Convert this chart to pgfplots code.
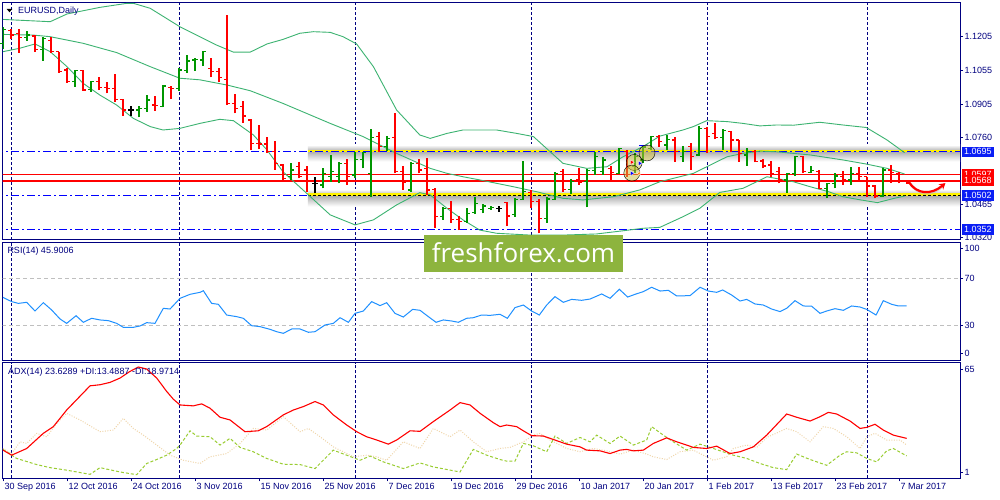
\documentclass[border=0pt]{standalone}
\usepackage{fontspec}
\setmainfont{Liberation Sans}
\newfontfamily\logofont{Open Sans}
\usepackage{pgfplots}
\pgfplotsset{compat=1.18}
\usepackage{pgfplotstable}
\usetikzlibrary{arrows.meta}
\definecolor{navy}{RGB}{0,0,128}
\definecolor{barG}{RGB}{0,150,0}
\definecolor{barR}{RGB}{255,0,0}
\definecolor{band}{RGB}{60,179,113}
\definecolor{hblue}{RGB}{0,0,255}
\definecolor{rsiC}{RGB}{30,144,255}
\definecolor{wheatC}{RGB}{240,214,170}
\definecolor{ygC}{RGB}{154,205,50}
\definecolor{logoC}{RGB}{141,180,62}
\definecolor{boxB}{RGB}{10,30,245}
\definecolor{boxR}{RGB}{255,0,0}
\definecolor{blobC}{RGB}{205,190,60}
\newcommand\lab{\fontsize{9}{10}\selectfont}

\pgfdeclareplotmark{lt}{\pgfpathmoveto{\pgfqpoint{-\pgfplotmarksize}{0pt}}\pgfpathlineto{\pgfqpoint{0pt}{0pt}}\pgfusepathqstroke}
\pgfdeclareplotmark{rt}{\pgfpathmoveto{\pgfqpoint{0pt}{0pt}}\pgfpathlineto{\pgfqpoint{\pgfplotmarksize}{0pt}}\pgfusepathqstroke}

% open / close of each daily bar
\pgfplotstableread{
i O C
0 1.1173 1.1234
3 1.1199 1.1209
5 1.1146 1.1195
9 1.1004 1.1052
11 1.0970 1.1004
17 1.0879 1.0886
18 1.0886 1.0923
20 1.0894 1.0985
22 1.0975 1.1055
23 1.1052 1.1095
24 1.1099 1.1102
25 1.1099 1.1136
36 1.0585 1.0615
40 1.0549 1.0600
41 1.0585 1.0607
42 1.0585 1.0644
44 1.0593 1.0662
45 1.0662 1.0691
46 1.0600 1.0759
48 1.0718 1.0754
51 1.0527 1.0644
55 1.0409 1.0446
58 1.0387 1.0424
59 1.0427 1.0468
60 1.0439 1.0456
61 1.0446 1.0450
64 1.0417 1.0485
65 1.0485 1.0519
68 1.0402 1.0487
69 1.0485 1.0600
71 1.0530 1.0563
73 1.0563 1.0612
74 1.0612 1.0673
75 1.0607 1.0659
77 1.0600 1.0710
79 1.0629 1.0673
80 1.0659 1.0716
81 1.0710 1.0762
83 1.0725 1.0750
85 1.0673 1.0695
87 1.0681 1.0798
90 1.0759 1.0788
93 1.0681 1.0695
98 1.0571 1.0600
99 1.0600 1.0673
101 1.0603 1.0612
103 1.0534 1.0556
104 1.0556 1.0588
106 1.0571 1.0600
110 1.0500 1.0615
}\tbG

\pgfplotstableread{
i O C
1 1.1229 1.1209
2 1.1217 1.1199
4 1.1205 1.1146
6 1.1185 1.1136
7 1.1135 1.1048
8 1.1055 1.1004
10 1.1052 1.0967
12 1.1004 1.0979
13 1.0979 1.0975
14 1.0975 1.0927
15 1.0926 1.0879
19 1.0901 1.0898
21 1.0979 1.0975
26 1.1063 1.1048
27 1.1048 1.1023
28 1.1014 1.0906
29 1.0908 1.0886
30 1.0894 1.0853
31 1.0835 1.0732
32 1.0732 1.0729
33 1.0729 1.0695
34 1.0695 1.0644
35 1.0637 1.0578
37 1.0629 1.0585
38 1.0615 1.0563
43 1.0644 1.0585
47 1.0762 1.0718
49 1.0759 1.0607
50 1.0607 1.0559
52 1.0644 1.0615
53 1.0622 1.0527
54 1.0530 1.0409
56 1.0446 1.0395
57 1.0395 1.0387
63 1.0471 1.0412
66 1.0515 1.0475
67 1.0475 1.0402
70 1.0607 1.0530
72 1.0574 1.0559
76 1.0622 1.0603
78 1.0695 1.0629
82 1.0762 1.0740
84 1.0747 1.0695
86 1.0718 1.0673
88 1.0798 1.0764
89 1.0776 1.0759
91 1.0784 1.0747
92 1.0747 1.0688
94 1.0695 1.0651
95 1.0654 1.0632
96 1.0637 1.0600
97 1.0607 1.0574
100 1.0673 1.0607
102 1.0607 1.0534
105 1.0585 1.0571
107 1.0600 1.0585
108 1.0585 1.0544
109 1.0544 1.0500
111 1.0615 1.0603
112 1.0600 1.0563
113 1.0563 1.0556
}\tbR

\pgfplotstableread{
i O C
16 1.0879 1.0879
39 1.0556 1.0556
62 1.0446 1.0446
}\tbK

\pgfplotsset{
  mt/.style={
    scale only axis, width=957.5pt,
    xmin=-0.0625, xmax=119.625,
    axis line style={draw=navy, line width=1pt},
    tick align=outside, major tick length=3pt,
    xtick pos=left, ytick pos=right, yticklabel pos=right,
    ytick style={draw=navy, line width=0.8pt},
    ticklabel style={font=\lab, text=navy},
    yticklabel style={anchor=west, inner sep=0pt, xshift=1.5pt},
    major x grid style={draw=navy, line width=0.8pt, dash pattern=on 3pt off 2pt},
  },
  monthgrid/.style={xtick={1,22,44,66,88,108}, xticklabels={}, xtick style={draw=none}, xmajorgrids},
  otick/.style={only marks, mark=lt, mark size=3pt, mark options={line width=1.2pt, draw=#1}, forget plot},
  ctick/.style={only marks, mark=rt, mark size=3pt, mark options={line width=1.2pt, draw=#1}, forget plot},
}

\begin{document}
\begin{tikzpicture}[x=1pt,y=1pt]
\useasboundingbox (0,0) rectangle (1000,500);
\fill[white] (0,0) rectangle (1000,500);

% ---------------- price panel ----------------
\begin{axis}[mt, monthgrid, at={(2.5pt,260pt)}, anchor=south west, height=237.5pt,
  ymin=1.03064, ymax=1.13526,
  ytick={1.1205,1.1055,1.0905,1.0760,1.0465,1.0320},
  yticklabels={1.1205,1.1055,1.0905,1.0760,1.0465,1.0320}]
% shadows of the yellow bands
\addplot[draw=none, top color=white, bottom color=black!24] coordinates {(38.1,1.0725)(121,1.0725)(121,1.0705)(38.1,1.0705)} -- cycle;
\addplot[draw=none, top color=black!30, bottom color=white] coordinates {(38.1,1.0694)(121,1.0694)(121,1.0652)(38.1,1.0652)} -- cycle;
\addplot[draw=none, top color=white, bottom color=black!24] coordinates {(38.1,1.0529)(121,1.0529)(121,1.0510)(38.1,1.0510)} -- cycle;
\addplot[draw=none, top color=black!30, bottom color=white] coordinates {(38.1,1.0498)(121,1.0498)(121,1.0454)(38.1,1.0454)} -- cycle;
% yellow lines
\addplot[yellow, line width=2.6pt] coordinates {(38.1,1.0699)(121,1.0699)};
\addplot[yellow, line width=2.6pt] coordinates {(38.1,1.0506)(121,1.0506)};
% levels
\addplot[hblue, line width=1pt, dash pattern=on 8pt off 3pt on 2pt off 3pt] coordinates {(-1,1.0695)(121,1.0695)};
\addplot[hblue, line width=1pt, dash pattern=on 8pt off 3pt on 2pt off 3pt] coordinates {(-1,1.0502)(38.1,1.0502)};
\addplot[black, line width=1pt, dash pattern=on 3pt off 2pt] coordinates {(38.1,1.0502)(121,1.0502)};
\addplot[hblue, line width=1pt, dash pattern=on 8pt off 3pt on 2pt off 3pt] coordinates {(-1,1.0352)(121,1.0352)};
\addplot[red, line width=1pt] coordinates {(-1,1.0597)(121,1.0597)};
\addplot[red, line width=2.2pt] coordinates {(-1,1.0568)(121,1.0568)};
% Bollinger bands
\addplot[band, line width=0.9pt] coordinates {(0,1.1278)(5.9,1.1268)(8.0,1.1302)(12.1,1.1331)(15.5,1.1349)(16.3,1.1349)(18.4,1.1327)(22.1,1.1246)(24.6,1.1202)(26.7,1.1165)(28.8,1.1134)(30.9,1.1134)(33.0,1.1170)(35.0,1.1190)(37.1,1.1217)(38.8,1.1224)(40.9,1.1221)(42.5,1.1202)(44.2,1.1170)(46.3,1.1070)(49.2,1.0879)(52.1,1.0769)(53.4,1.0754)(55.5,1.0776)(57.5,1.0791)(61.7,1.0791)(64.2,1.0776)(66.3,1.0762)(68.4,1.0695)(70.0,1.0644)(72.96,1.0622)(75.5,1.0629)(77.5,1.0673)(80.0,1.0718)(82.1,1.0764)(85.0,1.0791)(86.3,1.0806)(87.96,1.0832)(90.5,1.0828)(92.5,1.0820)(94.6,1.0809)(96.7,1.0813)(98.8,1.0812)(102.1,1.0825)(105.0,1.0813)(107.9,1.0802)(110.5,1.0747)(112.7,1.0691)};
\addplot[band, line width=0.9pt] coordinates {(0,1.1212)(3.8,1.1209)(5.9,1.1202)(10.0,1.1173)(14.2,1.1132)(18.4,1.1070)(22.1,1.1019)(24.6,1.1012)(28.0,1.0989)(30.9,1.0964)(35.0,1.0908)(40.9,1.0820)(45.0,1.0762)(49.2,1.0688)(53.4,1.0622)(55.5,1.0600)(57.5,1.0585)(59.6,1.0571)(63.8,1.0541)(66.7,1.0519)(70.0,1.0490)(72.5,1.0483)(76.3,1.0497)(79.6,1.0527)(82.1,1.0563)(86.3,1.0600)(90.5,1.0673)(92.5,1.0688)(94.6,1.0698)(96.7,1.0695)(100.9,1.0681)(105.0,1.0659)(107.9,1.0641)(110.5,1.0622)(112.7,1.0597)};
\addplot[band, line width=0.9pt] coordinates {(0,1.1136)(2.1,1.1151)(4.0,1.1170)(5.9,1.1136)(8.0,1.1070)(10.0,1.0997)(12.1,1.0945)(14.2,1.0901)(16.3,1.0842)(18.4,1.0806)(20.0,1.0791)(22.1,1.0798)(24.6,1.0820)(27.1,1.0838)(28.8,1.0832)(31.3,1.0769)(33.0,1.0703)(35.0,1.0607)(37.96,1.0512)(40.9,1.0417)(44.0,1.0373)(46.3,1.0395)(49.2,1.0461)(52.1,1.0515)(53.4,1.0505)(55.5,1.0446)(57.5,1.0395)(59.6,1.0350)(61.7,1.0336)(65.9,1.0328)(70.0,1.0328)(74.2,1.0333)(77.5,1.0347)(80.0,1.0358)(82.1,1.0362)(85.0,1.0409)(87.1,1.0446)(89.6,1.0516)(92.5,1.0534)(95.5,1.0585)(98.8,1.0563)(100.9,1.0541)(103.2,1.0519)(105.0,1.0497)(107.2,1.0483)(109.3,1.0471)(111.4,1.0490)(112.7,1.0500)};
% high-low of each bar (low, high, break)
\addplot[color=barG, draw=barG, line width=1.3pt, mark=none, unbounded coords=jump] coordinates {(0,1.1146)(0,1.1246)(0,nan)(3,1.1185)(3,1.1229)(3,nan)(5,1.1096)(5,1.1199)(5,nan)(9,1.0982)(9,1.1055)(9,nan)(11,1.0960)(11,1.1007)(11,nan)(17,1.0847)(17,1.0897)(17,nan)(18,1.0872)(18,1.0945)(18,nan)(20,1.0891)(20,1.0989)(20,nan)(22,1.0964)(22,1.1063)(22,nan)(23,1.1044)(23,1.1121)(23,nan)(24,1.1052)(24,1.1107)(24,nan)(25,1.1074)(25,1.1139)(25,nan)(36,1.0571)(36,1.0644)(36,nan)(40,1.0534)(40,1.0622)(40,nan)(41,1.0563)(41,1.0681)(41,nan)(42,1.0556)(42,1.0651)(42,nan)(44,1.0578)(44,1.0695)(44,nan)(45,1.0622)(45,1.0695)(45,nan)(46,1.0497)(46,1.0794)(46,nan)(48,1.0700)(48,1.0764)(48,nan)(51,1.0519)(51,1.0651)(51,nan)(55,1.0395)(55,1.0453)(55,nan)(58,1.0383)(58,1.0446)(58,nan)(59,1.0420)(59,1.0494)(59,nan)(60,1.0424)(60,1.0465)(60,nan)(61,1.0439)(61,1.0458)(61,nan)(64,1.0409)(64,1.0490)(64,nan)(65,1.0483)(65,1.0654)(65,nan)(68,1.0383)(68,1.0494)(68,nan)(69,1.0483)(69,1.0607)(69,nan)(71,1.0509)(71,1.0574)(71,nan)(73,1.0450)(73,1.0618)(73,nan)(74,1.0593)(74,1.0695)(74,nan)(75,1.0593)(75,1.0673)(75,nan)(77,1.0597)(77,1.0713)(77,nan)(79,1.0600)(79,1.0688)(79,nan)(80,1.0644)(80,1.0718)(80,nan)(81,1.0703)(81,1.0764)(81,nan)(83,1.0703)(83,1.0769)(83,nan)(85,1.0651)(85,1.0720)(85,nan)(87,1.0677)(87,1.0809)(87,nan)(90,1.0703)(90,1.0794)(90,nan)(93,1.0634)(93,1.0710)(93,nan)(98,1.0515)(98,1.0603)(98,nan)(99,1.0588)(99,1.0677)(99,nan)(101,1.0600)(101,1.0632)(101,nan)(103,1.0490)(103,1.0559)(103,nan)(104,1.0534)(104,1.0600)(104,nan)(106,1.0549)(106,1.0627)(106,nan)(110,1.0497)(110,1.0622)};
\addplot[color=barR, draw=barR, line width=1.3pt, mark=none, unbounded coords=jump] coordinates {(1,1.1190)(1,1.1234)(1,nan)(2,1.1132)(2,1.1234)(2,nan)(4,1.1136)(4,1.1209)(4,nan)(6,1.1129)(6,1.1202)(6,nan)(7,1.1044)(7,1.1136)(7,nan)(8,1.0999)(8,1.1063)(8,nan)(10,1.0964)(10,1.1055)(10,nan)(12,1.0967)(12,1.1023)(12,nan)(13,1.0952)(13,1.1004)(13,nan)(14,1.0916)(14,1.1038)(14,nan)(15,1.0853)(15,1.0927)(15,nan)(19,1.0876)(19,1.0941)(19,nan)(21,1.0927)(21,1.0985)(21,nan)(26,1.1023)(26,1.1107)(26,nan)(27,1.1004)(27,1.1063)(27,nan)(28,1.0900)(28,1.1298)(28,nan)(29,1.0864)(29,1.0948)(29,nan)(30,1.0823)(30,1.0919)(30,nan)(31,1.0703)(31,1.0838)(31,nan)(32,1.0706)(32,1.0813)(32,nan)(33,1.0691)(33,1.0762)(33,nan)(34,1.0615)(34,1.0742)(34,nan)(35,1.0571)(35,1.0641)(35,nan)(37,1.0578)(37,1.0651)(37,nan)(38,1.0519)(38,1.0632)(38,nan)(43,1.0549)(43,1.0662)(43,nan)(47,1.0695)(47,1.0781)(47,nan)(49,1.0600)(49,1.0867)(49,nan)(50,1.0527)(50,1.0632)(50,nan)(52,1.0600)(52,1.0662)(52,nan)(53,1.0505)(53,1.0666)(53,nan)(54,1.0361)(54,1.0534)(54,nan)(56,1.0383)(56,1.0478)(56,nan)(57,1.0350)(57,1.0412)(57,nan)(63,1.0368)(63,1.0475)(63,nan)(66,1.0446)(66,1.0527)(66,nan)(67,1.0336)(67,1.0485)(67,nan)(70,1.0519)(70,1.0618)(70,nan)(72,1.0549)(72,1.0622)(72,nan)(76,1.0571)(76,1.0632)(76,nan)(78,1.0585)(78,1.0703)(78,nan)(82,1.0718)(82,1.0769)(82,nan)(84,1.0651)(84,1.0762)(84,nan)(86,1.0615)(86,1.0735)(86,nan)(88,1.0691)(88,1.0806)(88,nan)(89,1.0750)(89,1.0823)(89,nan)(91,1.0695)(91,1.0787)(91,nan)(92,1.0651)(92,1.0747)(92,nan)(94,1.0648)(94,1.0703)(94,nan)(95,1.0622)(95,1.0662)(95,nan)(96,1.0585)(96,1.0654)(96,nan)(97,1.0556)(97,1.0629)(97,nan)(100,1.0600)(100,1.0677)(100,nan)(102,1.0530)(102,1.0615)(102,nan)(105,1.0549)(105,1.0612)(105,nan)(107,1.0571)(107,1.0629)(107,nan)(108,1.0497)(108,1.0585)(108,nan)(109,1.0490)(109,1.0549)(109,nan)(111,1.0559)(111,1.0637)(111,nan)(112,1.0556)(112,1.0607)(112,nan)(113,1.0554)(113,1.0571)};
\addplot[color=black, line width=1.3pt, mark=none, unbounded coords=jump] coordinates {(16,1.0853)(16,1.0897)(16,nan)(39,1.0512)(39,1.0582)(39,nan)(62,1.0431)(62,1.0456)};
% open and close ticks
\addplot[otick=barG] table[x=i, y=O] {\tbG};
\addplot[ctick=barG] table[x=i, y=C] {\tbG};
\addplot[otick=barR] table[x=i, y=O] {\tbR};
\addplot[ctick=barR] table[x=i, y=C] {\tbR};
\addplot[otick=black] table[x=i, y=O] {\tbK};
\addplot[ctick=black] table[x=i, y=C] {\tbK};
% trade markers
\addplot[only marks, mark=*, mark size=8pt, mark options={fill=blobC, draw=none, fill opacity=0.5}] coordinates {(78.9,1.0648)(80.5,1.0690)(78.6,1.0601)};
\addplot[only marks, mark=triangle*, mark size=2.6pt, mark options={rotate=-90, fill=red, draw=white, line width=0.3pt}] coordinates {(78.6,1.0649)};
\addplot[only marks, mark=triangle*, mark size=2.6pt, mark options={rotate=-90, fill=hblue, draw=white, line width=0.3pt}] coordinates {(79.6,1.0644)(78.6,1.0600)};
\addplot[only marks, mark=triangle*, mark size=2.2pt, mark options={rotate=90, fill=orange, draw=white, line width=0.3pt}] coordinates {(79.5,1.0600)};
\addplot[hblue, line width=1pt] coordinates {(79.5,1.0721)(80.6,1.0721)};
% forecast arrow
\draw[black!25, line width=2.4pt, opacity=0.6] (axis cs:113.4,1.0555) .. controls (axis cs:114.4,1.0500) and (axis cs:116.2,1.0497) .. (axis cs:117.6,1.0548);
\draw[red, line width=2.2pt, -{Stealth[length=6pt,width=7pt]}] (axis cs:113.2,1.0563) .. controls (axis cs:114.2,1.0507) and (axis cs:116,1.0503) .. (axis cs:117.8,1.0557);
\coordinate (bA) at (axis cs:119.625,1.0695);
\coordinate (bB) at (axis cs:119.625,1.0597);
\coordinate (bC) at (axis cs:119.625,1.0568);
\coordinate (bD) at (axis cs:119.625,1.0502);
\coordinate (bE) at (axis cs:119.625,1.0352);
\end{axis}

% ---------------- RSI panel ----------------
\begin{axis}[mt, monthgrid, at={(2.5pt,139.3pt)}, anchor=south west, height=118.4pt,
  ymin=-0.38, ymax=100.38, ytick={6,30,70,95.5}, yticklabels={0,30,70,100}]
\addplot[black!25, line width=0.9pt, dash pattern=on 4pt off 3pt] coordinates {(-1,30)(121,30)};
\addplot[black!25, line width=0.9pt, dash pattern=on 4pt off 3pt] coordinates {(-1,70)(121,70)};
\addplot[rsiC, line width=1pt] coordinates {(0,53.5)(1.08,49.9)(1.92,48.4)(2.96,49.3)(4.0,41.9)(5.04,49.0)(6.08,42.8)(7.13,35.1)(7.96,31.4)(9.13,37.9)(10.04,32.3)(11.08,35.7)(12.13,34.3)(13.17,33.7)(14.21,31.4)(15.04,28.0)(16.29,28.0)(17.13,29.2)(17.96,32.0)(19.0,31.4)(20.04,44.2)(20.88,43.6)(22.13,52.7)(23.38,56.1)(24.63,57.8)(25.04,59.2)(26.08,48.4)(26.92,47.6)(27.96,38.5)(29.21,37.1)(30.04,35.7)(31.08,29.4)(32.13,28.6)(33.38,26.3)(34.21,24.3)(35.04,22.9)(36.08,26.6)(37.13,26.6)(38.17,23.8)(39.0,24.3)(40.25,30.0)(41.29,31.4)(42.13,36.2)(43.17,32.3)(44.0,39.9)(45.04,41.9)(46.08,49.9)(47.13,46.5)(47.96,49.0)(49.0,39.9)(50.04,36.8)(51.21,43.3)(52.13,42.5)(53.17,37.1)(54.13,32.3)(55.04,34.3)(56.08,33.4)(56.92,32.3)(57.96,35.7)(58.79,36.2)(59.83,38.5)(60.88,38.2)(62.13,39.1)(63.04,35.7)(64.0,44.8)(65.04,47.0)(66.08,41.9)(67.04,38.5)(67.96,47.0)(69.0,54.1)(70.04,49.3)(71.08,51.8)(72.33,51.0)(73.38,52.1)(74.83,56.4)(75.88,52.7)(77.04,60.4)(78.08,53.8)(79.0,56.1)(80.04,58.4)(81.08,62.1)(82.13,58.9)(83.17,59.5)(84.21,54.7)(85.88,55.0)(87.13,62.1)(88.17,58.9)(89.21,57.8)(89.96,59.8)(91.08,55.5)(92.13,50.4)(92.96,51.8)(94.0,47.9)(95.04,47.0)(96.08,43.6)(97.13,41.4)(97.96,44.2)(99.0,50.7)(100.04,46.2)(101.08,46.0)(102.13,39.9)(102.96,41.9)(104.0,43.9)(105.04,42.5)(106.08,46.2)(107.13,45.3)(107.96,43.3)(109.13,38.5)(110.04,50.7)(111.08,47.6)(111.92,46.2)(112.96,46.2)};
\end{axis}

% ---------------- ADX panel ----------------
\begin{axis}[mt, at={(2.5pt,21.7pt)}, anchor=south west, height=115.6pt,
  ymin=1, ymax=65, ytick={4.1,61.5}, yticklabels={1,65},
  xtick={0,8,...,112},
  xticklabels={30 Sep 2016,12 Oct 2016,24 Oct 2016,3 Nov 2016,15 Nov 2016,25 Nov 2016,7 Dec 2016,19 Dec 2016,29 Dec 2016,10 Jan 2017,20 Jan 2017,1 Feb 2017,13 Feb 2017,23 Feb 2017,7 Mar 2017},
  xtick style={draw=navy, line width=0.8pt},
  xticklabel style={anchor=north west, inner sep=0pt, xshift=1.5pt, yshift=-1.5pt},
  extra x ticks={1,22,44,66,88,108}, extra x tick labels={},
  extra x tick style={grid=major, major tick length=0pt}]
\addplot[wheatC, line width=1pt, dash pattern=on 1pt off 1.5pt] coordinates {(0,17.5)(1.08,14.7)(2.13,21.2)(2.96,20.3)(4.21,25.9)(5.46,24.0)(6.71,31.4)(7.96,37.0)(9.63,33.3)(12.13,26.8)(13.79,27.7)(15.04,34.2)(16.29,28.6)(17.54,24.9)(19.21,19.4)(20.88,13.8)(22.54,11.0)(24.63,9.2)(25.88,12.9)(27.96,14.7)(29.63,20.3)(31.29,28.6)(32.96,27.7)(35.04,35.1)(37.13,26.8)(38.17,28.6)(39.63,24.0)(41.29,18.4)(43.79,12.9)(45.46,13.8)(46.71,12.9)(47.96,11.0)(50.04,21.2)(52.13,17.5)(53.79,28.6)(55.88,24.0)(57.13,27.7)(58.79,21.2)(60.46,15.7)(62.13,17.5)(63.38,18.1)(65.04,21.2)(66.29,24.9)(67.13,25.9)(68.38,22.2)(70.46,17.5)(72.13,15.7)(73.79,17.5)(75.46,16.2)(77.13,14.4)(78.79,16.6)(80.46,14.4)(81.29,12.9)(82.96,11.4)(84.63,15.7)(86.29,16.6)(87.54,13.8)(88.79,11.0)(90.46,12.9)(91.29,17.5)(92.96,19.4)(94.21,18.1)(95.46,23.6)(97.96,28.6)(99.21,26.8)(100.88,21.2)(102.54,29.6)(103.79,28.6)(105.46,24.0)(107.13,17.5)(107.96,24.0)(109.0,25.9)(110.46,22.2)(112.13,22.2)(112.96,19.4)};
\addplot[ygC, line width=1pt, dash pattern=on 3pt off 2pt] coordinates {(0,17.0)(1.71,12.0)(4.21,8.6)(5.88,6.9)(7.96,5.5)(10.88,3.2)(12.13,6.9)(14.63,4.5)(16.71,3.0)(17.96,9.2)(19.21,11.4)(20.46,13.8)(21.71,17.5)(22.13,19.4)(23.38,27.3)(24.21,24.4)(25.88,24.0)(27.13,19.4)(28.38,23.1)(29.63,18.1)(31.29,15.7)(32.96,12.0)(35.04,8.8)(37.13,8.6)(39.0,6.4)(41.29,16.6)(42.96,13.8)(44.63,11.0)(45.88,13.3)(47.54,10.1)(50.04,6.4)(52.13,9.5)(53.79,7.3)(57.13,4.5)(58.79,17.0)(60.46,13.8)(62.13,11.4)(62.96,10.5)(64.0,10.5)(65.04,20.3)(66.29,19.0)(67.96,15.7)(69.0,24.4)(70.46,20.3)(72.13,23.6)(73.38,21.2)(74.21,24.9)(75.88,20.3)(77.13,24.4)(78.79,19.4)(80.46,22.2)(81.08,29.6)(82.54,24.9)(83.79,21.2)(85.46,16.6)(87.13,19.9)(88.79,17.5)(91.29,13.8)(92.96,12.0)(94.63,9.2)(96.29,6.9)(97.96,5.8)(99.21,14.4)(100.88,11.4)(102.96,8.2)(104.63,13.8)(105.46,15.7)(106.71,15.1)(107.96,12.0)(109.21,10.1)(110.46,16.2)(111.29,17.5)(112.96,13.4)};
\addplot[red, line width=1.1pt] coordinates {(0,16.6)(1.08,13.8)(2.96,17.5)(5.04,25.9)(6.29,29.6)(7.96,38.8)(10.88,52.2)(12.13,52.8)(13.38,54.1)(14.63,56.5)(15.88,60.2)(16.92,62.6)(17.96,61.5)(19.21,56.5)(20.46,49.1)(21.29,44.8)(22.13,41.6)(23.79,41.1)(24.83,42.2)(25.88,39.8)(27.13,34.8)(28.38,33.3)(30.25,26.8)(31.92,27.3)(32.96,29.6)(35.04,36.1)(36.29,38.8)(37.54,40.7)(39.0,43.5)(40.04,41.6)(41.29,36.1)(42.96,30.5)(44.21,26.8)(45.46,24.0)(46.71,22.2)(48.17,19.9)(49.21,22.2)(50.88,27.3)(52.13,27.0)(53.79,32.4)(55.88,38.8)(57.13,42.9)(58.38,41.6)(59.63,37.0)(61.29,31.8)(62.13,29.6)(62.96,30.5)(64.21,29.6)(65.04,27.3)(66.08,24.6)(67.54,24.4)(68.79,22.5)(70.46,19.9)(72.13,18.4)(72.96,16.6)(74.63,16.2)(75.88,14.7)(77.13,16.6)(77.96,17.0)(78.79,16.2)(80.04,16.6)(81.29,20.3)(82.96,23.4)(84.21,21.2)(85.46,19.4)(86.29,18.1)(87.96,17.5)(89.21,18.8)(90.88,14.7)(92.13,15.7)(93.79,18.4)(95.46,24.9)(97.96,36.6)(99.21,34.8)(100.88,32.7)(102.13,35.1)(103.17,37.5)(104.21,36.6)(105.88,32.7)(107.13,28.6)(107.96,29.2)(109.0,30.9)(110.04,27.7)(111.29,24.9)(112.96,23.1)};
\end{axis}

% price boxes on the right scale
\tikzset{pbox/.style={anchor=west, font=\lab, text=white, inner xsep=2.5pt, inner ysep=0pt, minimum height=10.5pt}}
\node[pbox, fill=boxB] at ([xshift=1.5pt]bA) {1.0695};
\node[pbox, fill=boxR] at ([xshift=1.5pt]bB) {1.0597};
\node[pbox, fill=boxR] at ([xshift=1.5pt]bC) {1.0568};
\node[pbox, fill=boxB] at ([xshift=1.5pt]bD) {1.0502};
\node[pbox, fill=boxB] at ([xshift=1.5pt]bE) {1.0352};

% titles
\fill[black] (6.7,491) -- (12.3,491) -- (9.5,487.7) -- cycle;
\node[anchor=west, inner sep=0pt, font=\lab, text=navy] at (18,489.3) {EURUSD,Daily};
\node[anchor=west, inner sep=0pt, font=\lab, text=navy] at (7.3,248.5) {RSI(14) 45.9006};
\node[anchor=west, inner sep=0pt, font=\lab, text=navy] at (8,128) {ADX(14) 23.6289 +DI:13.4887 -DI:18.9714};

% logo
\fill[logoC] (424,228) rectangle (623,265);
\node[text=white, inner sep=0pt, font=\logofont\fontsize{26}{28}\selectfont] at (523.5,247) {freshforex.com};
\end{tikzpicture}
\end{document}
